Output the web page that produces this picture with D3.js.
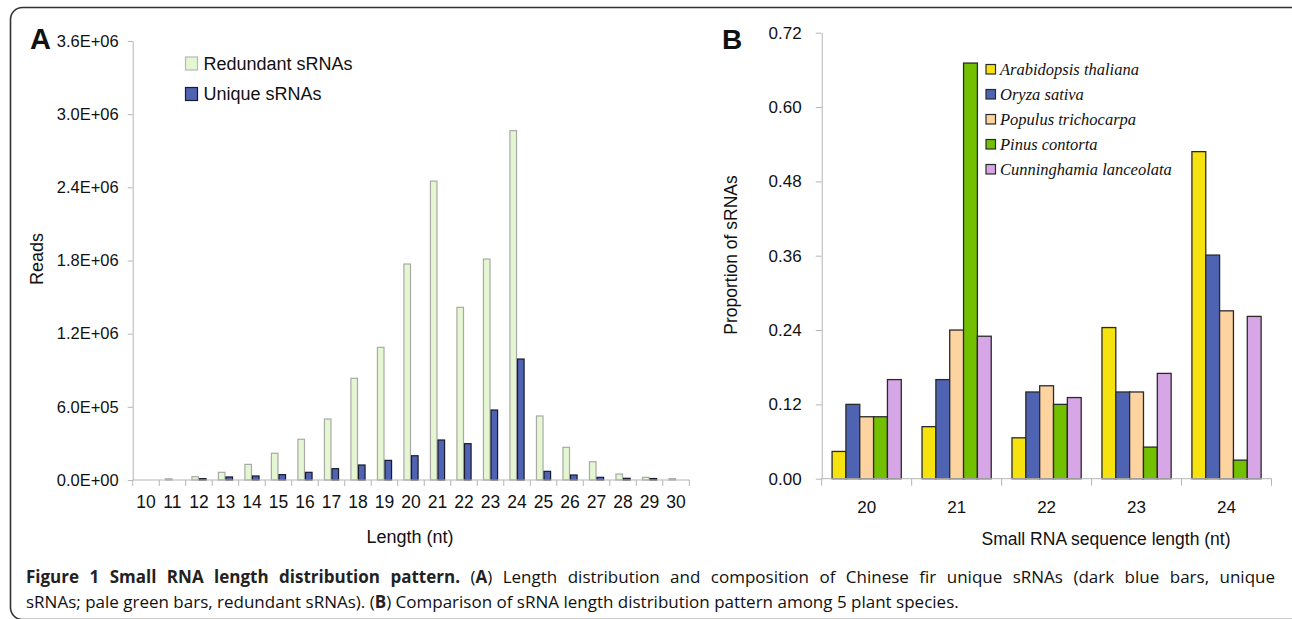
<!DOCTYPE html>
<html>
<head>
<meta charset="utf-8">
<script src="https://cdn.jsdelivr.net/npm/d3@7"></script>
<style>
  body { margin: 0; background: #fff; }
  svg text { font-family: "Liberation Sans", Arial, sans-serif; fill: #111; }
</style>
</head>
<body>
<div class="canvas"></div>
<script>
// panel A data
const lengthsA = ['10','11','12','13','14','15','16','17','18','19','20','21','22','23','24','25','26','27','28','29','30'];
const redundant = [0, 10000, 27000, 63000, 128000, 219000, 334000, 500000, 834000, 1088000, 1771000,
                   2451000, 1416000, 1812000, 2865000, 525000, 268000, 150000, 49000, 22000, 11000];
const unique = [0, 0, 11000, 25000, 33000, 44000, 63000, 93000, 123000, 161000, 199000,
                328000, 298000, 574000, 992000, 71000, 41000, 22000, 14000, 12000, 0];
const yTicksA = [0, 600000, 1200000, 1800000, 2400000, 3000000, 3600000];
const seriesA = ['Redundant sRNAs', 'Unique sRNAs'];

// panel B data
const lengthsB = ['20','21','22','23','24'];
const species = ['Arabidopsis thaliana', 'Oryza sativa', 'Populus trichocarpa', 'Pinus contorta', 'Cunninghamia lanceolata'];
const arabidopsis = [0.044, 0.084, 0.066, 0.244, 0.528];
const oryza       = [0.120, 0.160, 0.140, 0.140, 0.361];
const populus     = [0.100, 0.240, 0.150, 0.140, 0.271];
const pinus       = [0.100, 0.671, 0.120, 0.051, 0.030];
const cunninghamia= [0.160, 0.230, 0.131, 0.170, 0.262];
const yTicksB = [0, 0.12, 0.24, 0.36, 0.48, 0.60, 0.72];

const colorsA = ['#e5f6d3', '#4f63b3'];
const strokesA = ['#a9aaa6', '#1a1a2a'];
const colorsB = ['#f5e20e', '#4f63b3', '#fdd3a0', '#72c000', '#d7a6e6'];

const svg = d3.select('.canvas')
    .append('svg')
    .attr('width', 1292)
    .attr('height', 619);

// frame
svg.append('rect')
    .attr('x', 10.5).attr('y', 7.5)
    .attr('width', 1300).attr('height', 612)
    .attr('rx', 12)
    .attr('fill', 'none')
    .attr('stroke', '#333')
    .attr('stroke-width', 1.6);

const sci = d => {
    if (d === 0) return '0.0E+00';
    const e = Math.floor(Math.log10(d));
    const m = (d / Math.pow(10, e)).toFixed(1);
    return `${m}E+${String(e).padStart(2, '0')}`;
};

// ---------- panel A ----------
const xA = d3.scaleBand().domain(lengthsA).range([132.7, 689.3]);
const yA = d3.scaleLinear().domain([0, 3600000]).range([480, 41]);
const wA = xA.bandwidth() / 3.5;

const gA = svg.append('g');

const yAxisA = gA.append('g')
    .attr('transform', `translate(${xA.range()[0]},0)`)
    .call(d3.axisLeft(yA).tickValues(yTicksA).tickFormat(sci).tickSize(5).tickSizeOuter(0).tickPadding(9));
yAxisA.select('.domain').attr('stroke', '#b5b5b5');
yAxisA.selectAll('.tick line').attr('stroke', '#b5b5b5');
yAxisA.selectAll('text').attr('font-size', 16.5).attr('fill', '#111');

const tableA = lengthsA.map((l, i) => ({ len: l, vals: [redundant[i], unique[i]] }));

gA.selectAll('g.grp')
    .data(tableA)
    .enter().append('g')
    .attr('class', 'grp')
    .attr('transform', d => `translate(${xA(d.len)},0)`)
    .selectAll('rect')
    .data(d => d.vals.map((v, j) => ({ v, j })))
    .enter().append('rect')
    .attr('x', d => wA * (0.75 + d.j) + 0.5)
    .attr('width', wA - 1)
    .attr('y', d => yA(d.v))
    .attr('height', d => yA(0) - yA(d.v))
    .attr('fill', d => colorsA[d.j])
    .attr('stroke', d => d.v > 0 ? strokesA[d.j] : 'none')
    .attr('stroke-width', 1.2);

// x axis A
gA.append('line')
    .attr('x1', xA.range()[0]).attr('x2', xA.range()[1])
    .attr('y1', yA(0)).attr('y2', yA(0))
    .attr('stroke', '#b5b5b5');
gA.selectAll('line.xt')
    .data(lengthsA.concat(['end']))
    .enter().append('line')
    .attr('class', 'xt')
    .attr('x1', d => d === 'end' ? xA.range()[1] : xA(d))
    .attr('x2', d => d === 'end' ? xA.range()[1] : xA(d))
    .attr('y1', yA(0)).attr('y2', yA(0) + 6)
    .attr('stroke', '#b5b5b5');
gA.selectAll('text.xl')
    .data(lengthsA)
    .enter().append('text')
    .attr('class', 'xl')
    .attr('x', d => xA(d) + xA.bandwidth() / 2)
    .attr('y', 508)
    .attr('text-anchor', 'middle')
    .attr('font-size', 17.5)
    .text(d => d);

gA.append('text')
    .attr('x', 410).attr('y', 543)
    .attr('text-anchor', 'middle')
    .attr('font-size', 18)
    .text('Length (nt)');
gA.append('text')
    .attr('transform', 'translate(43,259) rotate(-90)')
    .attr('text-anchor', 'middle')
    .attr('font-size', 18)
    .text('Reads');
gA.append('text')
    .attr('x', 30).attr('y', 48.5)
    .attr('font-size', 29).attr('font-weight', 'bold')
    .text('A');

// legend A
const legA = gA.selectAll('g.legA')
    .data(seriesA)
    .enter().append('g')
    .attr('class', 'legA')
    .attr('transform', (d, i) => `translate(185.5,${57 + i * 30.5})`);
legA.append('rect')
    .attr('width', 12).attr('height', 13)
    .attr('fill', (d, i) => colorsA[i])
    .attr('stroke', (d, i) => i === 0 ? '#b8b8b8' : '#1a1a2a')
    .attr('stroke-width', 1.2);
legA.append('text')
    .attr('x', 18).attr('y', 12.5)
    .attr('font-size', 18)
    .text(d => d);

// ---------- panel B ----------
const xB = d3.scaleBand().domain(lengthsB).range([821.7, 1271.5]);
const yB = d3.scaleLinear().domain([0, 0.72]).range([478.7, 32.7]);
const wB = xB.bandwidth() / 6.5;

const gB = svg.append('g');

const yAxisB = gB.append('g')
    .attr('transform', `translate(${xB.range()[0]},0)`)
    .call(d3.axisLeft(yB).tickValues(yTicksB).tickFormat(d3.format('.2f')).tickSize(6).tickSizeOuter(0).tickPadding(14));
yAxisB.select('.domain').attr('stroke', '#b5b5b5');
yAxisB.selectAll('.tick line').attr('stroke', '#b5b5b5');
yAxisB.selectAll('text').attr('font-size', 17).attr('fill', '#111');

const seriesB = [arabidopsis, oryza, populus, pinus, cunninghamia];
const tableB = lengthsB.map((l, i) => ({ len: l, vals: seriesB.map(s => s[i]) }));

gB.selectAll('g.grp')
    .data(tableB)
    .enter().append('g')
    .attr('class', 'grp')
    .attr('transform', d => `translate(${xB(d.len)},0)`)
    .selectAll('rect')
    .data(d => d.vals.map((v, j) => ({ v, j })))
    .enter().append('rect')
    .attr('x', d => wB * (0.75 + d.j))
    .attr('width', wB)
    .attr('y', d => yB(d.v))
    .attr('height', d => yB(0) - yB(d.v))
    .attr('fill', d => colorsB[d.j])
    .attr('stroke', '#2a2a2a')
    .attr('stroke-width', 1.3);

gB.append('line')
    .attr('x1', xB.range()[0]).attr('x2', xB.range()[1])
    .attr('y1', yB(0)).attr('y2', yB(0))
    .attr('stroke', '#b5b5b5');
gB.selectAll('line.xt')
    .data(lengthsB.concat(['end']))
    .enter().append('line')
    .attr('class', 'xt')
    .attr('x1', d => d === 'end' ? xB.range()[1] : xB(d))
    .attr('x2', d => d === 'end' ? xB.range()[1] : xB(d))
    .attr('y1', yB(0)).attr('y2', yB(0) + 7)
    .attr('stroke', '#b5b5b5');
gB.selectAll('text.xl')
    .data(lengthsB)
    .enter().append('text')
    .attr('class', 'xl')
    .attr('x', d => xB(d) + xB.bandwidth() / 2)
    .attr('y', 513)
    .attr('text-anchor', 'middle')
    .attr('font-size', 17)
    .text(d => d);

gB.append('text')
    .attr('x', 1106).attr('y', 545)
    .attr('text-anchor', 'middle')
    .attr('font-size', 17.5)
    .text('Small RNA sequence length (nt)');
gB.append('text')
    .attr('transform', 'translate(737,255) rotate(-90)')
    .attr('text-anchor', 'middle')
    .attr('font-size', 17.5)
    .text('Proportion of sRNAs');
gB.append('text')
    .attr('x', 722).attr('y', 48.5)
    .attr('font-size', 28).attr('font-weight', 'bold')
    .text('B');

// legend B
const legB = gB.selectAll('g.legB')
    .data(species)
    .enter().append('g')
    .attr('class', 'legB')
    .attr('transform', (d, i) => `translate(986,${64.5 + i * 25})`);
legB.append('rect')
    .attr('width', 9.5).attr('height', 9.5)
    .attr('fill', (d, i) => colorsB[i])
    .attr('stroke', '#2a2a2a')
    .attr('stroke-width', 1.2);
legB.append('text')
    .attr('x', 14).attr('y', 10)
    .attr('font-size', 16.5)
    .style('font-family', '"Liberation Serif", "Times New Roman", serif')
    .style('font-style', 'italic')
    .text(d => d);

// ---------- caption ----------
const cap = svg.append('g')
    .attr('font-size', 17);

const line1 = cap.append('text').attr('x', 26).attr('y', 583).style('font-family', '"Open Sans", sans-serif').attr('fill', '#333');
line1.append('tspan').attr('font-weight', 'bold').attr('fill', '#222').text('Figure 1 Small RNA length distribution pattern.');
line1.append('tspan').text(' (');
line1.append('tspan').attr('font-weight', 'bold').attr('fill', '#222').text('A');
line1.append('tspan').text(') Length distribution and composition of Chinese fir unique sRNAs (dark blue bars, unique');

// justify first line to the right margin
const natural = line1.node().getComputedTextLength();
const spaces = line1.text().split(' ').length - 1;
line1.attr('word-spacing', (1275 - 26 - natural) / spaces);

const line2 = cap.append('text').attr('x', 26).attr('y', 608).style('font-family', '"Open Sans", sans-serif').attr('fill', '#333');
line2.append('tspan').text('sRNAs; pale green bars, redundant sRNAs). (');
line2.append('tspan').attr('font-weight', 'bold').attr('fill', '#222').text('B');
line2.append('tspan').text(') Comparison of sRNA length distribution pattern among 5 plant species.');
</script>
</body>
</html>
